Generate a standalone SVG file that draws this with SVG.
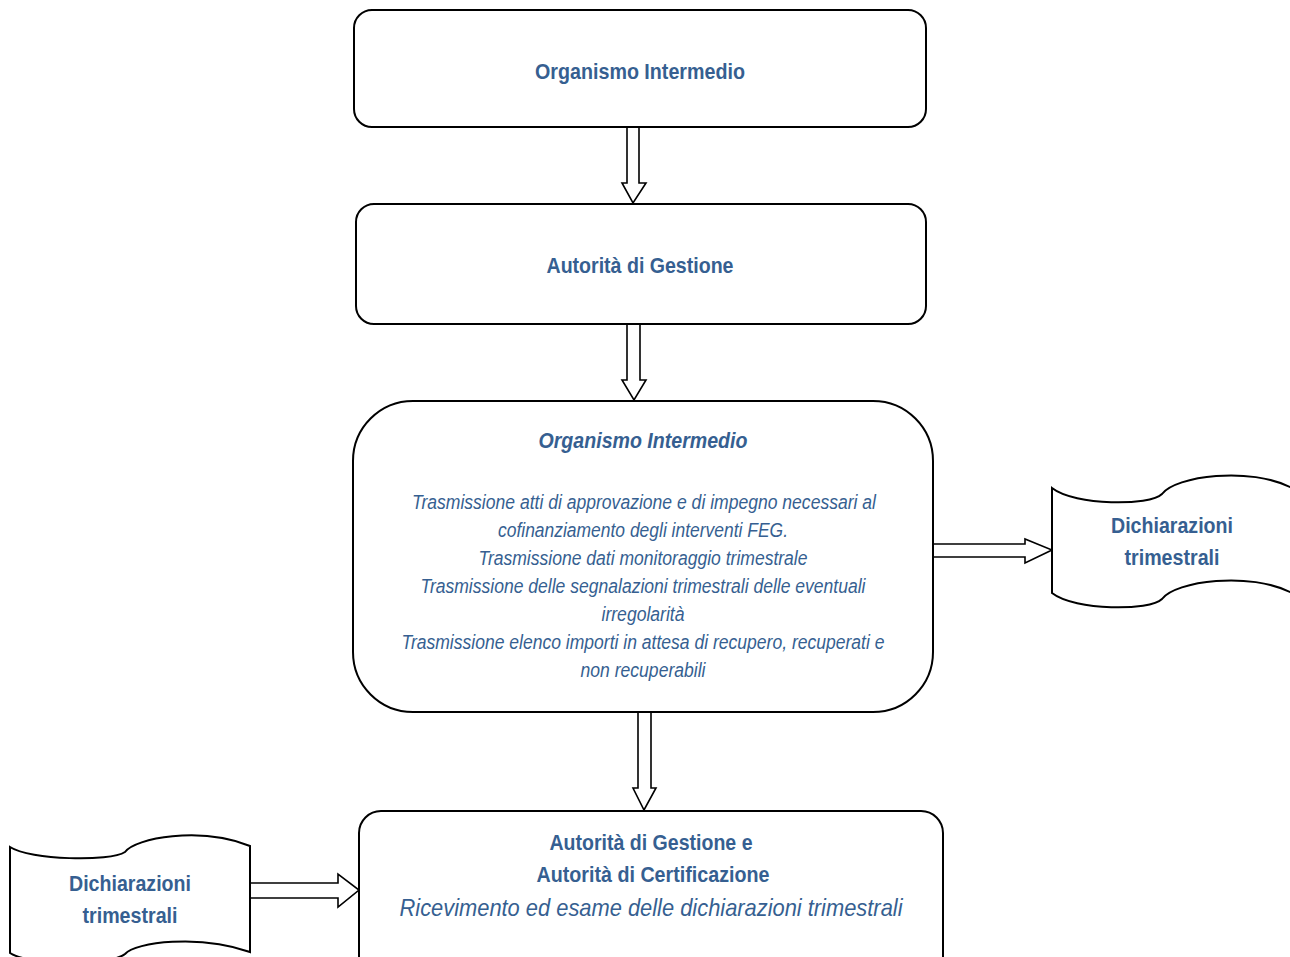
<svg xmlns="http://www.w3.org/2000/svg" width="1290" height="957" viewBox="0 0 1290 957">
<style>
.box{fill:#fff;stroke:#000;stroke-width:2}
.arr{fill:#fff;stroke:#000;stroke-width:1.6;stroke-linejoin:miter}
text{font-family:"Liberation Sans Narrow","Arial Narrow","Liberation Sans",Arial,sans-serif;fill:#365F91;text-anchor:middle}
.b{font-weight:bold;font-size:22px}
.bi{font-weight:bold;font-style:italic;font-size:22px}
.i{font-style:italic;font-size:20px}
.il{font-style:italic;font-size:24px}
</style>
<rect width="1290" height="957" fill="#fff"/>
<g id="connectors">
<path class="arr" d="M627,127 L639,127 L639,183 L646,183 L633,203 L622,183 L627,183 Z"/>
<path class="arr" d="M627,324 L640,324 L640,380 L646,380 L634,400 L622,380 L627,380 Z"/>
<path class="arr" d="M638,712 L651,712 L651,788 L656,788 L644,810 L633,788 L638,788 Z"/>
<path class="arr" d="M931,544 L1025,544 L1025,539 L1052,550 L1025,563 L1025,557 L931,557 Z"/>
<path class="arr" d="M250,883 L338,883 L338,874 L359,890 L338,907 L338,898 L250,898 Z"/>
</g>
<g id="node1">
<rect class="box" x="354" y="10" width="572" height="117" rx="18"/>
<text class="b" x="640" y="79" textLength="210" lengthAdjust="spacingAndGlyphs">Organismo Intermedio</text>
</g>
<g id="node2">
<rect class="box" x="356" y="204" width="570" height="120" rx="18"/>
<text class="b" x="640" y="273" textLength="187" lengthAdjust="spacingAndGlyphs">Autorità di Gestione</text>
</g>
<g id="node3">
<rect class="box" x="353" y="401" width="580" height="311" rx="60"/>
<text class="bi" x="643" y="448" textLength="209" lengthAdjust="spacingAndGlyphs">Organismo Intermedio</text>
<text class="i" x="644" y="509" textLength="464" lengthAdjust="spacingAndGlyphs">Trasmissione atti di approvazione e di impegno necessari al</text>
<text class="i" x="643" y="537" textLength="290" lengthAdjust="spacingAndGlyphs">cofinanziamento degli interventi FEG.</text>
<text class="i" x="643" y="565" textLength="329" lengthAdjust="spacingAndGlyphs">Trasmissione dati monitoraggio trimestrale</text>
<text class="i" x="643" y="593" textLength="445" lengthAdjust="spacingAndGlyphs">Trasmissione delle segnalazioni trimestrali delle eventuali</text>
<text class="i" x="643" y="621" textLength="83" lengthAdjust="spacingAndGlyphs">irregolarità</text>
<text class="i" x="643" y="649" textLength="483" lengthAdjust="spacingAndGlyphs">Trasmissione elenco importi in attesa di recupero, recuperati e</text>
<text class="i" x="643" y="677" textLength="125" lengthAdjust="spacingAndGlyphs">non recuperabili</text>
</g>
<g id="node4">
<rect class="box" x="359" y="811" width="584" height="170" rx="22"/>
<text class="b" x="651" y="850" textLength="203" lengthAdjust="spacingAndGlyphs">Autorità di Gestione e</text>
<text class="b" x="653" y="882" textLength="233" lengthAdjust="spacingAndGlyphs">Autorità di Certificazione</text>
<text class="il" x="651" y="916" textLength="503" lengthAdjust="spacingAndGlyphs">Ricevimento ed esame delle dichiarazioni trimestrali</text>
</g>
<g id="doc-right">
<path class="box" d="M1052,488 C1075,506 1150,506 1162,494 C1175,476 1250,466 1292,488 L1292,593 C1250,571 1175,581 1162,599 C1150,611 1075,611 1052,593 Z"/>
<text class="b" x="1172" y="533" textLength="122" lengthAdjust="spacingAndGlyphs">Dichiarazioni</text>
<text class="b" x="1172" y="565" textLength="95" lengthAdjust="spacingAndGlyphs">trimestrali</text>
</g>
<g id="doc-left">
<path class="box" d="M10,847 C30,860 110,862 125,852 C135,838 200,826 250,846 L250,952 C200,934 135,942 125,954 C110,966 30,966 10,953 Z"/>
<text class="b" x="130" y="891" textLength="122" lengthAdjust="spacingAndGlyphs">Dichiarazioni</text>
<text class="b" x="130" y="923" textLength="95" lengthAdjust="spacingAndGlyphs">trimestrali</text>
</g>
</svg>
